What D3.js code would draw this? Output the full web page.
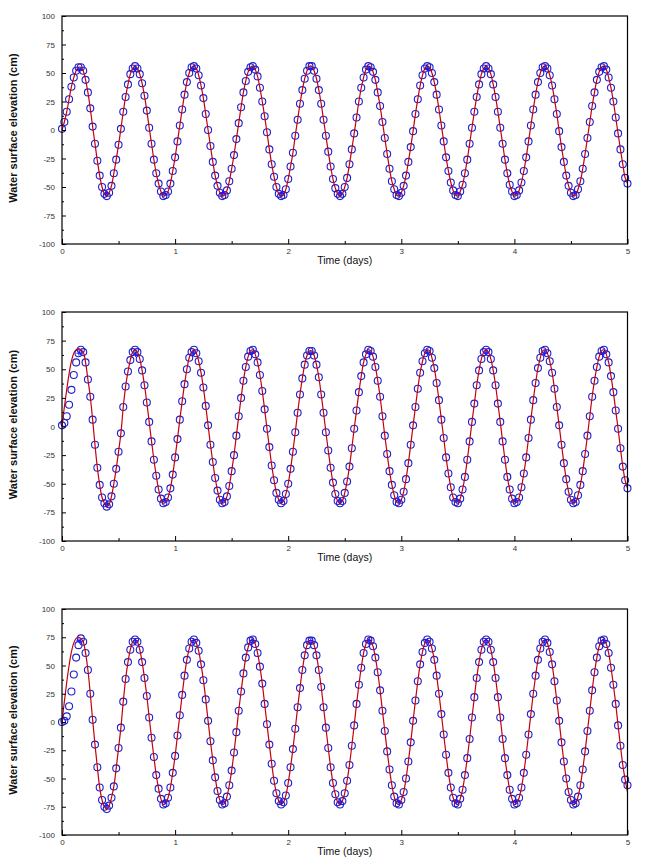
<!DOCTYPE html>
<html><head><meta charset="utf-8">
<script src="https://cdn.jsdelivr.net/npm/d3@7"></script>
<style>
body{margin:0;background:#fff}
svg{display:block}
text{font-family:Arial,"Liberation Sans",sans-serif}
</style>
</head><body>
<svg id="chart" width="646" height="865"></svg>
<script>
// ---------------- data ----------------
const sampleIntervalDays = 1 / 48;          // simulated points every 30 minutes
const xTicks = [0, 1, 2, 3, 4, 5];
const xMinorTicks = [0.5, 1.5, 2.5, 3.5, 4.5];
const yTicks = [-100, -75, -50, -25, 0, 25, 50, 75, 100];
const yMinorTicks = [-87.5, -62.5, -37.5, -12.5, 12.5, 37.5, 62.5, 87.5];
const xTitle = "Time (days)";
const yTitle = "Water surface elevation (cm)";

// simulated water surface elevation (open circles), cm
const panel1Circles = [
  1, 7, 16, 27, 38, 46, 52, 55, 55, 52, 44, 33, 19, 3, -12, -27, -40, -50, -56, -58, -55, -49, -38, -26, -13, 1,
  16, 29, 40, 49, 54, 56, 54, 49, 41, 30, 17, 2, -12, -26, -38, -47, -54, -58, -57, -54, -47, -36, -24, -10,
  4, 18, 31, 42, 50, 55, 56, 54, 48, 39, 28, 14, 0, -14, -28, -40, -49, -55, -58, -57, -53, -45, -34, -22, -8,
  6, 20, 33, 43, 51, 55, 56, 53, 47, 37, 25, 12, -2, -17, -30, -41, -50, -56, -58, -57, -52, -43, -32, -20, -5,
  9, 23, 35, 45, 52, 56, 56, 52, 45, 35, 23, 9, -5, -19, -32, -43, -51, -56, -58, -56, -50, -42, -30, -17, -3,
  11, 25, 37, 46, 53, 56, 55, 51, 44, 33, 21, 7, -7, -21, -34, -45, -52, -57, -58, -55, -49, -40, -28, -15, -1,
  14, 27, 39, 48, 54, 56, 55, 50, 42, 31, 18, 4, -10, -24, -36, -46, -53, -57, -58, -54, -48, -38, -26, -12, 2,
  16, 29, 40, 49, 54, 56, 54, 49, 40, 29, 16, 2, -12, -26, -38, -48, -54, -58, -57, -53, -46, -36, -24, -10, 4,
  18, 31, 42, 50, 55, 56, 54, 48, 39, 27, 14, -1, -15, -28, -40, -49, -55, -58, -57, -52, -45, -34, -21, -7, 7,
  21, 33, 44, 51, 55, 56, 53, 46, 37, 25, 11, -3, -17, -30, -42, -47
];
const panel2Circles = [
  1, 3, 9, 19, 32, 45, 56, 64, 67, 65, 56, 41, 26, 6, -16, -36, -51, -62, -67, -70, -68, -61, -50, -37, -22, -6,
  17, 35, 48, 58, 65, 67, 65, 59, 49, 36, 21, 4, -13, -29, -43, -55, -63, -67, -66, -62, -54, -42, -27, -11,
  6, 22, 37, 50, 60, 65, 67, 64, 57, 47, 34, 18, 1, -16, -31, -45, -56, -64, -67, -66, -61, -52, -39, -25, -8,
  9, 25, 40, 52, 61, 66, 67, 63, 56, 45, 31, 15, -2, -18, -34, -47, -58, -64, -67, -65, -59, -50, -37, -22, -5,
  12, 28, 42, 54, 62, 66, 66, 62, 54, 43, 28, 12, -5, -21, -36, -49, -59, -65, -67, -65, -58, -48, -35, -19, -2,
  14, 30, 44, 56, 63, 67, 66, 61, 52, 40, 26, 9, -8, -24, -39, -51, -60, -66, -67, -64, -57, -46, -32, -16, 1,
  17, 33, 47, 57, 64, 67, 66, 60, 51, 38, 23, 6, -10, -27, -41, -53, -62, -66, -67, -63, -55, -44, -29, -13, 4,
  20, 36, 49, 59, 65, 67, 65, 59, 49, 36, 20, 4, -13, -29, -44, -55, -63, -67, -66, -62, -53, -41, -27, -10, 6,
  23, 38, 51, 60, 66, 67, 64, 57, 47, 33, 17, 1, -16, -32, -46, -57, -64, -67, -66, -60, -51, -39, -24, -8, 9,
  26, 40, 52, 61, 66, 67, 63, 56, 44, 30, 14, -2, -19, -35, -47, -54
];
const panel3Circles = [
  0, 1, 5, 14, 27, 42, 57, 68, 74, 71, 61, 46, 25, 2, -20, -40, -58, -69, -75, -77, -74, -67, -57, -41, -23, -5,
  18, 38, 53, 64, 71, 73, 71, 64, 53, 39, 23, 4, -14, -31, -47, -59, -68, -73, -72, -67, -58, -45, -30, -12,
  6, 24, 41, 55, 65, 71, 73, 70, 63, 51, 37, 20, 1, -17, -34, -49, -61, -69, -73, -72, -66, -56, -43, -27, -9,
  10, 27, 43, 57, 66, 72, 73, 69, 61, 49, 34, 16, -2, -20, -37, -52, -63, -70, -73, -71, -65, -54, -40, -24, -6,
  13, 30, 46, 59, 68, 72, 72, 68, 59, 46, 31, 13, -5, -23, -40, -54, -64, -71, -73, -70, -63, -52, -38, -21, -3,
  16, 33, 48, 61, 69, 73, 72, 67, 57, 44, 28, 10, -8, -26, -42, -56, -66, -72, -73, -69, -62, -50, -35, -18, 1,
  19, 36, 51, 62, 70, 73, 71, 65, 55, 41, 25, 7, -11, -29, -45, -58, -67, -72, -73, -68, -60, -47, -32, -15, 4,
  22, 39, 53, 64, 71, 73, 71, 64, 53, 39, 22, 4, -15, -32, -47, -60, -68, -73, -72, -67, -58, -45, -29, -11, 7,
  25, 41, 55, 65, 71, 73, 70, 62, 51, 36, 19, 1, -18, -35, -50, -62, -69, -73, -72, -66, -56, -42, -26, -8, 10,
  28, 44, 57, 67, 72, 73, 69, 61, 48, 33, 16, -3, -21, -38, -51, -56
];
// red curve differs from the circles only during spin-up; afterwards it follows them
const panel1LineHead = [0];
const panel2LineHead = [0, 17, 32, 46, 57, 64, 67, 68, 67];
const panel3LineHead = [0, 18, 35, 50, 62, 70, 74, 75, 74];
const panel3LineTail = -62;   // curve end value at t = 5 days (panel 3)

// blue crosses at high / low water
const extremaTimes = [0.15, 0.39, 0.65, 0.91, 1.16, 1.42, 1.68, 1.94, 2.20, 2.46,
                      2.72, 2.98, 3.23, 3.49, 3.75, 4.01, 4.27, 4.53, 4.79];
const panel1Extrema = [53, -56, 54, -56, 54, -55, 54, -56, 54, -56, 54, -55, 54, -55, 54, -55, 54, -55, 54];
const panel2Extrema = [64, -68, 63, -65, 64, -65, 64, -65, 64, -65, 64, -65, 64, -65, 64, -65, 64, -65, 64];
const panel3Extrema = [72, -74, 72, -71, 72, -71, 72, -71, 72, -71, 72, -71, 72, -71, 72, -71, 72, -71, 72];

// ---------------- drawing ----------------
const svg = d3.select("#chart");
const left = 62, right = 627.5;
const layout = [
  {top: 16,  bottom: 244, circles: panel1Circles, head: panel1LineHead, extrema: panel1Extrema, tail: null},
  {top: 312, bottom: 541, circles: panel2Circles, head: panel2LineHead, extrema: panel2Extrema, tail: null},
  {top: 609, bottom: 835, circles: panel3Circles, head: panel3LineHead, extrema: panel3Extrema, tail: panel3LineTail}
];

layout.forEach(p => {
  const x = d3.scaleLinear().domain([0, 5]).range([left, right]);
  const y = d3.scaleLinear().domain([-100, 100]).range([p.bottom, p.top]);
  const g = svg.append("g");

  const pts = p.circles.map((v, i) => ({t: i * sampleIntervalDays, v}));
  const linePts = p.head.map((v, i) => ({t: i * sampleIntervalDays, v}))
    .concat(pts.slice(p.head.length));
  if (p.tail !== null) linePts[linePts.length - 1] = {t: linePts[linePts.length - 1].t, v: p.tail};

  // circles
  g.append("g").selectAll("circle").data(pts).join("circle")
    .attr("cx", d => x(d.t)).attr("cy", d => y(d.v)).attr("r", 3.5)
    .attr("fill", "none").attr("stroke", "#2020cc").attr("stroke-width", 1.1);

  // red line
  g.append("path").datum(linePts)
    .attr("fill", "none").attr("stroke", "#c4000c").attr("stroke-width", 1.2)
    .attr("d", d3.line().x(d => x(d.t)).y(d => y(d.v)).curve(d3.curveCatmullRom));

  // blue crosses
  g.append("g").selectAll("path").data(extremaTimes.map((t, i) => ({t, v: p.extrema[i]}))).join("path")
    .attr("transform", d => `translate(${x(d.t)},${y(d.v)})`)
    .attr("d", d3.line()([[-2.5, 0], [2.5, 0]]) + d3.line()([[0, -2.5], [0, 2.5]]))
    .attr("stroke", "#1a1aff").attr("stroke-width", 1).attr("fill", "none");

  // axes
  const yAx = g.append("g").attr("transform", `translate(${left},0)`)
    .call(d3.axisLeft(y).tickValues(yTicks).tickSize(-4).tickPadding(7).tickFormat(d => String(d)));
  const yMin = g.append("g").attr("transform", `translate(${left},0)`)
    .call(d3.axisLeft(y).tickValues(yMinorTicks).tickSize(-2).tickFormat(""));
  const xAx = g.append("g").attr("transform", `translate(0,${p.bottom})`)
    .call(d3.axisBottom(x).tickValues(xTicks).tickSize(-5).tickPadding(4).tickFormat(d => String(d)));
  const xMin = g.append("g").attr("transform", `translate(0,${p.bottom})`)
    .call(d3.axisBottom(x).tickValues(xMinorTicks).tickSize(-3).tickFormat(""));
  [yAx, yMin, xAx, xMin].forEach(a => {
    a.select(".domain").remove();
    a.selectAll("line").attr("stroke", "#000");
    a.selectAll("text").attr("font-size", 8).attr("fill", "#333")
      .attr("font-family", "Arial, 'Liberation Sans', sans-serif");
  });

  // frame
  g.append("rect").attr("x", left).attr("y", p.top)
    .attr("width", right - left).attr("height", p.bottom - p.top)
    .attr("fill", "none").attr("stroke", "#000").attr("stroke-width", 1.2);

  // titles
  g.append("text").attr("x", (left + right) / 2).attr("y", p.bottom + 20)
    .attr("text-anchor", "middle").attr("font-size", 10.5).attr("fill", "#111")
    .text(xTitle);
  g.append("text")
    .attr("transform", `translate(16.5,${(p.top + p.bottom) / 2 - 2}) rotate(-90)`)
    .attr("text-anchor", "middle").attr("font-size", 11).attr("font-weight", "bold").attr("fill", "#111")
    .text(yTitle);
});
</script>
</body></html>
